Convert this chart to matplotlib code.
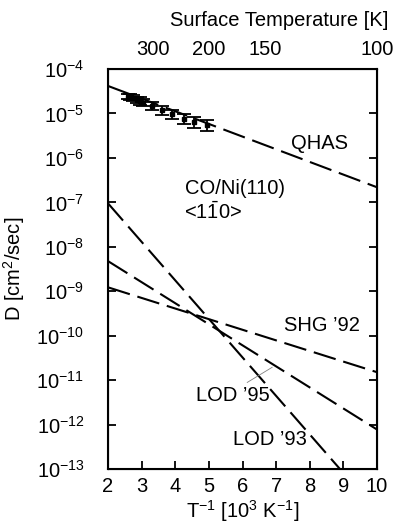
import numpy as np
import matplotlib
matplotlib.use("Agg")
import matplotlib.pyplot as plt

plt.rcParams['font.family'] = ['Liberation Sans', 'DejaVu Sans']
plt.rcParams['mathtext.fontset'] = 'custom'
plt.rcParams['mathtext.rm'] = 'Liberation Sans'
plt.rcParams['mathtext.it'] = 'Liberation Sans'

FS = 14.5

# line ends (x = 1000/T, log10 D)
qhas_x = [2, 10]
qhas_logd = [-4.38, -6.66]
lod93_x = [2, 8.9]
lod93_logd = [-7.02, -13.0]
lod95_x = [2, 10]
lod95_logd = [-8.32, -12.11]
shg92_x = [2, 10]
shg92_logd = [-8.91, -10.82]

# QHAS measured points
pts_x = [2.6, 2.65, 2.75, 2.85, 2.95, 3.05, 3.3, 3.6, 3.9, 4.25, 4.55, 4.95]
pts_logd = [-4.62, -4.63, -4.66, -4.69, -4.72, -4.76, -4.84, -4.93, -5.02, -5.12, -5.2, -5.27]
pts_err = [0.06, 0.06, 0.07, 0.07, 0.08, 0.08, 0.09, 0.1, 0.1, 0.11, 0.12, 0.12]

top_temps = [300, 200, 150, 100]

fig = plt.figure(figsize=(3.94, 5.23), dpi=100)
ax = fig.add_axes([0.274, 0.103, 0.683, 0.765])

dash = (0, (11, 3.8))
for xs, ls in [(qhas_x, qhas_logd), (lod93_x, lod93_logd),
               (lod95_x, lod95_logd), (shg92_x, shg92_logd)]:
    ax.plot(xs, 10 ** np.array(ls), color='black', lw=1.5, linestyle=dash)

pd_ = 10 ** np.array(pts_logd)
lo = pd_ - 10 ** (np.array(pts_logd) - np.array(pts_err))
hi = 10 ** (np.array(pts_logd) + np.array(pts_err)) - pd_
ax.errorbar(pts_x, pd_, yerr=[lo, hi], fmt='s', ms=3, color='black',
            capsize=5, elinewidth=1.3, capthick=1.3)

ax.set_yscale('log')
ax.set_xlim(2, 10)
ax.set_ylim(1e-13, 1e-4)
ax.set_xticks(range(2, 11))
ax.set_yticks([10.0 ** k for k in range(-13, -3)])
ax.set_yticklabels([r'$10^{%d}$' % k for k in range(-13, -3)])
ax.minorticks_off()
ax.tick_params(direction='in', length=6, width=1.3, top=True, right=True,
               labelsize=FS)
ax.tick_params(axis='x', pad=6)
ax.tick_params(axis='y', pad=17)
for s in ax.spines.values():
    s.set_linewidth(1.5)

ax.set_xlabel(r'T$^{-1}$ [10$^{3}$ K$^{-1}$]', fontsize=FS, labelpad=1)
ax.set_ylabel(r'D [cm$^{2}$/sec]', fontsize=FS, labelpad=7)

ax2 = ax.twiny()
ax2.set_xlim(2, 10)
ax2.set_xticks([1000.0 / t for t in top_temps])
ax2.set_xticklabels([str(t) for t in top_temps])
ax2.tick_params(length=0, labelsize=FS, pad=7)
fig.text(388 / 394, 1 - 20 / 523, 'Surface Temperature [K]', fontsize=FS,
         ha='right', va='center')

ax.text(8.3, 10 ** -5.67, 'QHAS', fontsize=FS, ha='center', va='center')
ax.text(5.78, 10 ** -6.68, 'CO/Ni(110)', fontsize=FS, ha='center', va='center')
ax.text(5.12, 10 ** -7.22, r'<1$\bar{1}$0>', fontsize=FS, ha='center', va='center')
ax.text(8.37, 10 ** -9.77, 'SHG \u201992', fontsize=FS, ha='center', va='center')
ax.text(5.7, 10 ** -11.34, 'LOD \u201995', fontsize=FS, ha='center', va='center')
ax.text(6.82, 10 ** -12.33, 'LOD \u201993', fontsize=FS, ha='center', va='center')
ax.plot([6.14, 6.88], [10 ** -11.05, 10 ** -10.71], color='gray', lw=0.6)

fig.savefig('out.png', dpi=100)
